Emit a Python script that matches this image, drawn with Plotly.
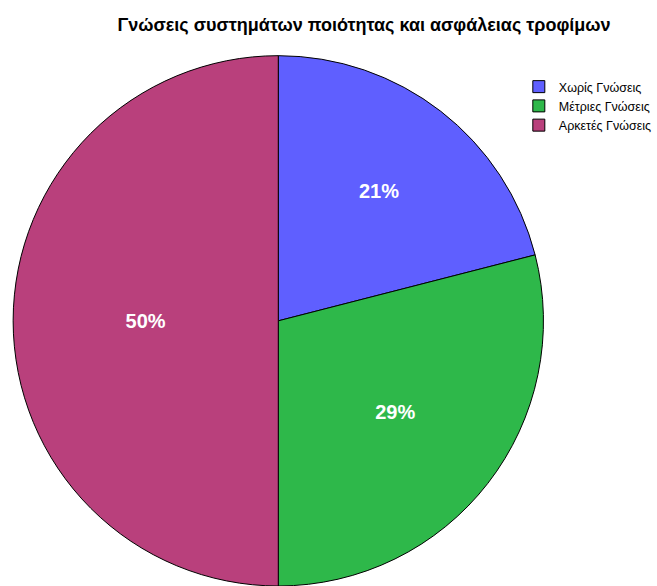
import plotly.graph_objects as go

categories = ["Χωρίς Γνώσεις", "Μέτριες Γνώσεις", "Αρκετές Γνώσεις"]
percentages = [21, 29, 50]
slice_colors = ["#5f5fff", "#2eb84a", "#b9407c"]

W, H = 657, 586

fig = go.Figure(
    go.Pie(
        labels=categories,
        values=percentages,
        sort=False,
        direction="clockwise",
        rotation=0,
        marker=dict(colors=slice_colors, line=dict(color="#000000", width=1)),
        texttemplate="%{percent:.0%}",
        textposition="inside",
        insidetextorientation="horizontal",
        insidetextfont=dict(family="Liberation Sans", size=20, color="white", weight="bold"),
        hoverinfo="label+percent",
        domain=dict(x=[13 / W, 547 / W], y=[0.0, 0.905]),
    )
)

fig.update_layout(
    width=W,
    height=H,
    margin=dict(l=0, r=0, t=0, b=0),
    paper_bgcolor="white",
    plot_bgcolor="white",
    title=dict(
        text="Γνώσεις συστημάτων ποιότητας και ασφάλειας τροφίμων",
        x=364 / W,
        xanchor="center",
        y=1 - 25 / H,
        yanchor="middle",
        font=dict(family="Liberation Sans", size=18, color="#000000", weight="bold"),
    ),
    legend=dict(
        x=522 / W,
        y=1 - 72 / H,
        xanchor="left",
        yanchor="top",
        font=dict(family="Liberation Sans", size=12.5, color="#000000"),
        bgcolor="rgba(0,0,0,0)",
        itemwidth=30,
        tracegroupgap=0,
    ),
    showlegend=True,
)

fig.write_html("out.html")
